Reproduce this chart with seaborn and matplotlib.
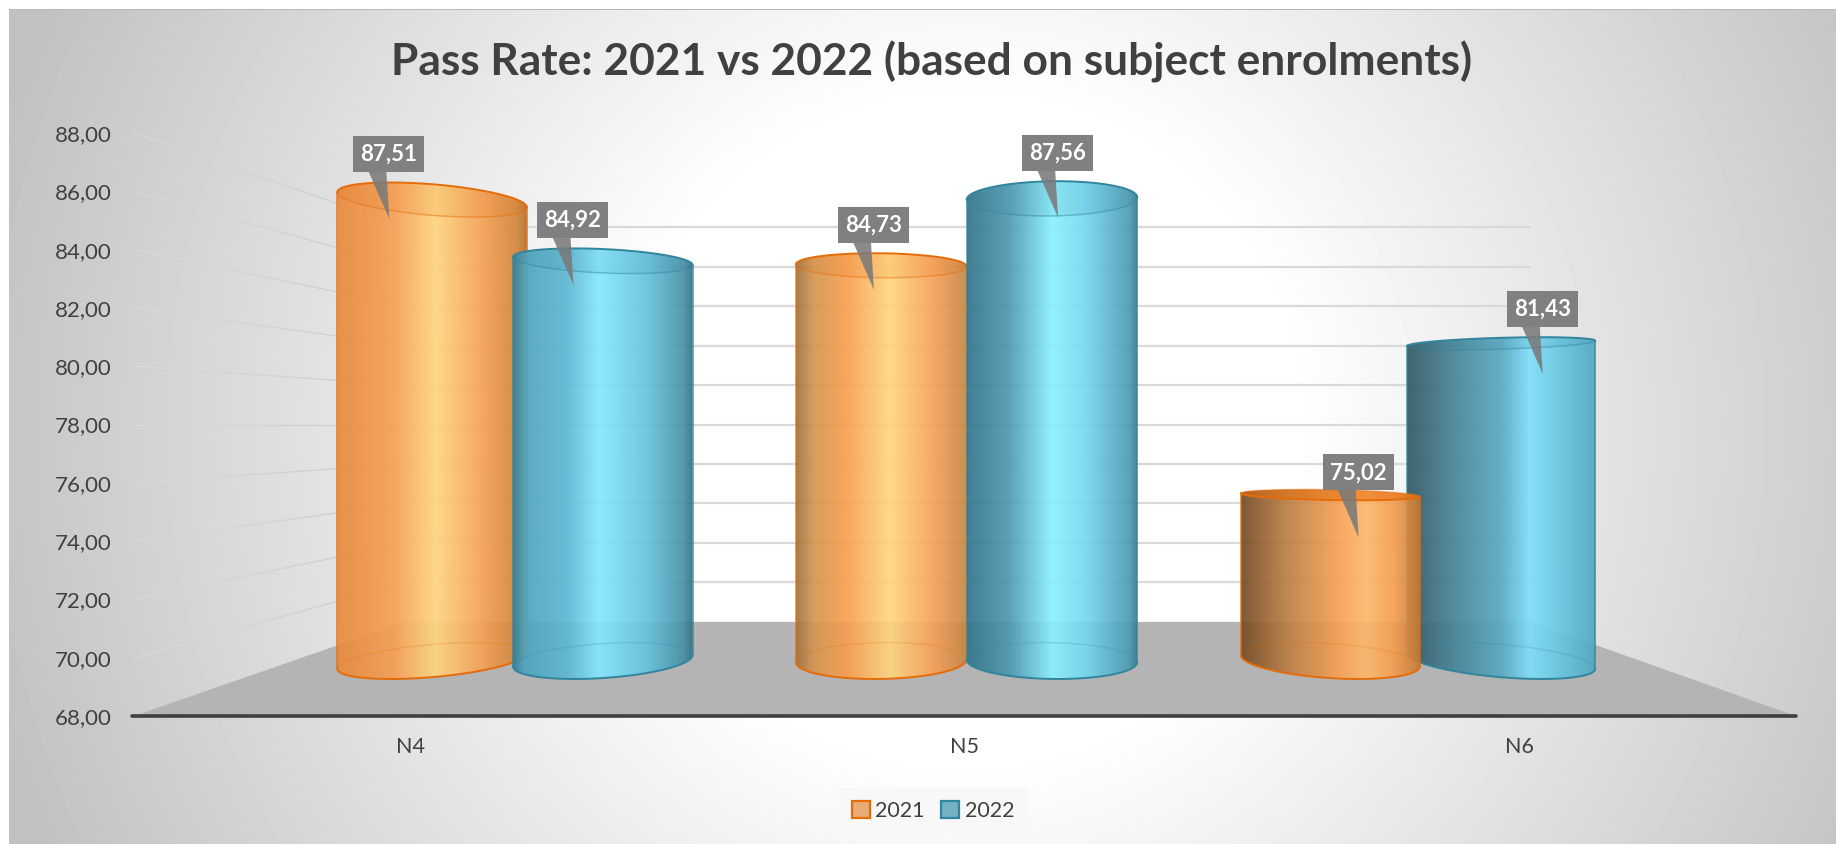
import numpy as np
import pandas as pd
import seaborn as sns
import matplotlib
matplotlib.use("Agg")
import matplotlib.pyplot as plt
from matplotlib.colors import LinearSegmentedColormap, to_rgb
from matplotlib.patches import Polygon, Rectangle
from matplotlib.ticker import FuncFormatter
from matplotlib.transforms import IdentityTransform

# Pass rates per level and year
levels = ["N4", "N5", "N6"]
years = ["2021", "2022"]
pass_2021 = [87.51, 84.73, 75.02]
pass_2022 = [84.92, 87.56, 81.43]
y_ticks = [68, 70, 72, 74, 76, 78, 80, 82, 84, 86, 88]
title = "Pass Rate: 2021 vs 2022 (based on subject enrolments)"

W, H = 1836, 844
sns.set_theme(style="white")
plt.rcParams["font.family"] = ["Lato", "DejaVu Sans"]
INK = "#404040"

# Perspective of the 3D scene: depth 0 is the front plane, depth 1 the back wall
HORIZON = 78.0
CENTRE = 1.015
DEPTH_K = 0.477
CYL_DEPTH = 0.505
CYL_RADIUS = 0.2


def project(x, v, d):
    s = 1.0 / (1.0 + DEPTH_K * np.asarray(d, dtype=float))
    return CENTRE + (np.asarray(x, dtype=float) - CENTRE) * s, HORIZON + (np.asarray(v, dtype=float) - HORIZON) * s


# Horizontal colour ramps of each cylinder, keyed by (level index, year)
RAMPS = {
    (0, "2021"): [(0, "#e8893c"), (.3, "#f7a055"), (.52, "#ffd680"), (.75, "#f7a458"), (.95, "#d38438"), (1, "#b5702f")],
    (0, "2022"): [(0, "#327f99"), (.06, "#4ea3bd"), (.3, "#5cb8d3"), (.48, "#84e8ff"), (.75, "#66c2dc"), (.95, "#4790a7"), (1, "#366f83")],
    (1, "2021"): [(0, "#a07240"), (.1, "#d49450"), (.3, "#f89f50"), (.55, "#ffd680"), (.8, "#f7a158"), (1, "#c78442")],
    (1, "2022"): [(0, "#327387"), (.25, "#4e99b2"), (.5, "#8af0ff"), (.7, "#76d6ef"), (.95, "#4b9bb3"), (1, "#35788f")],
    (2, "2021"): [(0, "#734a25"), (.25, "#b97c42"), (.55, "#f9a155"), (.7, "#fdb86c"), (.85, "#f59f50"), (1, "#c47a35")],
    (2, "2022"): [(0, "#315664"), (.25, "#468498"), (.5, "#58aac3"), (.65, "#7edefa"), (.8, "#68c9e2"), (1, "#50a6c2")],
}
FILL = {"2021": "#fbaa63", "2022": "#66b8d0"}
EDGE = {"2021": "#e46c0a", "2022": "#31859c"}

fig = plt.figure(figsize=(W / 100, H / 100), dpi=100, facecolor="white")

# Panel background: radial fade from white to grey
bg = fig.add_axes([0, 0, 1, 1], zorder=-1)
px, py = np.meshgrid(np.arange(W), np.arange(H))
radius = np.hypot(px - 965, py - 430)
shade = 255 - 62 * np.clip((radius - 330) / 680, 0, 1)
shade[:9, :] = 255
shade[:, :9] = 255
shade[9:10, 9:] = 184
bg.imshow(shade, cmap="gray", vmin=0, vmax=255, aspect="auto", interpolation="nearest")
bg.axis("off")

# Front plane of the plot: categories and values live in these axes
ax = fig.add_axes([134 / W, 1 - 716 / H, 1662 / W, 583 / H])
ax.patch.set_alpha(0)

df = pd.DataFrame({
    "level": levels * 2,
    "year": [years[0]] * 3 + [years[1]] * 3,
    "rate": pass_2021 + pass_2022,
})
sns.barplot(data=df, x="level", y="rate", hue="year", palette=FILL, width=0.76,
            dodge=True, gap=0, errorbar=None, ax=ax, zorder=1)
ax.set_xlim(-0.5, 2.5)
ax.set_ylim(68, 88)
ax.set_yticks(y_ticks)
ax.yaxis.set_major_formatter(FuncFormatter(lambda v, _: f"{v:.2f}".replace(".", ",")))
ax.tick_params(axis="y", length=0, pad=16, labelsize=16, labelcolor=INK)
ax.tick_params(axis="x", length=0, pad=15, labelsize=15.5, labelcolor=INK)
ax.set_xlabel("")
ax.set_ylabel("")
sns.despine(ax=ax, left=True, bottom=True)

# Walls and floor
gx0, gy0 = project(-0.5, 68, 0)
gx1, gy1 = project(-0.5, 68, 1)
gx2, gy2 = project(2.5, 68, 1)
gx3, gy3 = project(2.5, 68, 0)
ax.add_patch(Polygon([(gx0, gy0), (gx1, gy1), (gx2, gy2), (gx3, gy3)], closed=True,
                     facecolor="#b4b4b4", edgecolor="none", zorder=2, clip_on=False))
for tick in y_ticks[1:]:
    lx, ly = project(-0.5, tick, 1)
    rx, ry = project(2.5, tick, 1)
    ax.plot([lx, rx], [ly, ry], color="#d9d9d9", lw=1.6, zorder=2)
    # The side wall line goes from pale near the front to grey at the back wall
    steps = np.linspace(0, 1, 13)
    for a, b in zip(steps[:-1], steps[1:]):
        sx, sy = project(-0.5, tick, [a, b])
        tone = 0.85 - 0.05 * b
        ax.plot(sx, sy, color=(tone, tone, tone), lw=1.0, zorder=2, clip_on=False,
                solid_capstyle="butt")
ax.plot([gx0 - 0.003, gx3], [gy0, gy3], color="#3f3f3f", lw=2.6, zorder=6, clip_on=False,
        solid_capstyle="round")


def arc_between(i, j, n):
    """Both ways round a closed outline of n points, from index i to index j."""
    fwd = [(i + k) % n for k in range(((j - i) % n) + 1)]
    back = [(i - k) % n for k in range(((i - j) % n) + 1)]
    return np.array(fwd), np.array(back)


def draw_cylinder(centre, half, value, ramp, edge, order):
    theta = np.linspace(0, 2 * np.pi, 241)[:-1]
    wx = centre + half * np.cos(theta)
    wd = CYL_DEPTH + CYL_RADIUS * np.sin(theta)
    top_x, top_y = project(wx, value, wd)
    low_x, low_y = project(wx, 68, wd)
    left, right = int(np.argmin(top_x)), int(np.argmax(top_x))
    near, far = arc_between(right, left, len(theta))
    if wd[near].mean() > wd[far].mean():
        near, far = far, near

    # Above the horizon the near rim bounds the body, below it the far rim does
    top_outer = near if value >= HORIZON else far
    body = np.vstack([
        np.column_stack([top_x[top_outer], top_y[top_outer]])[::-1],
        np.column_stack([low_x[near], low_y[near]]),
    ])
    clip = Polygon(body, closed=True, transform=ax.transData, facecolor="none", edgecolor="none")
    ax.add_patch(clip)

    stops = [(p, to_rgb(c)) for p, c in ramp]
    cmap = LinearSegmentedColormap.from_list("body", stops)
    strip = cmap(np.linspace(0, 1, 256))[None, :, :].copy()
    strip[..., 3] = 0.92
    x_min, x_max = top_x.min(), top_x.max()
    img = ax.imshow(strip, extent=[x_min, x_max, 60, 95], aspect="auto",
                    interpolation="bilinear", zorder=order, clip_on=True)
    img.set_clip_path(clip)

    # Cap and rims
    cap_alpha = 0.10 if value >= HORIZON else 0.55
    ax.add_patch(Polygon(np.column_stack([top_x, top_y]), closed=True, facecolor=edge,
                         edgecolor="none", alpha=cap_alpha, zorder=order + 0.1, clip_on=False))
    ax.plot(top_x[near], top_y[near], color=edge, lw=1.4, zorder=order + 0.2, clip_on=False)
    ax.plot(top_x[far], top_y[far], color=edge, lw=1.1, alpha=0.45, zorder=order + 0.2, clip_on=False)
    ax.plot(low_x[near], low_y[near], color=edge, lw=1.4, zorder=order + 0.2, clip_on=False)
    ax.plot(low_x[far], low_y[far], color=edge, lw=1.0, alpha=0.22, zorder=order + 0.2, clip_on=False)
    for idx in (left, right):
        ax.plot([top_x[idx], low_x[idx]], [top_y[idx], low_y[idx]], color=edge, lw=1.2,
                alpha=0.8, zorder=order + 0.2, clip_on=False)


# The bars give the positions and heights; each is redrawn as a cylinder in perspective
bars = []
for container, year in zip(ax.containers, years):
    for i, bar in enumerate(container):
        bars.append((bar.get_x() + bar.get_width() / 2, bar.get_width() / 2, bar.get_height(), i, year))
        bar.set_visible(False)

# Outer cylinders first, so those nearer the centre sit on top
bars.sort(key=lambda b: -abs(b[0] - 1.0))
for n, (cx, half, value, i, year) in enumerate(bars):
    draw_cylinder(cx, half, value, RAMPS[(i, year)], EDGE[year], 3 + n * 0.3)

fig.canvas.draw()

# Data callouts: grey tag with a pointer, placed from the projected front of each cap
for cx, half, value, i, year in bars:
    wx, wy = project(cx, value, 0.3)
    tx, ty = ax.transData.transform((wx, wy))
    tip_x, tip_y = tx, ty - 37
    left, bottom = tip_x - 36, tip_y + 47
    bw, bh = 71, 36
    ax.add_patch(Polygon([(left + 15, bottom + 1), (left + 33, bottom + 1), (tip_x, tip_y)], closed=True,
                         transform=IdentityTransform(), facecolor="#7a7a7a", edgecolor="none",
                         alpha=0.88, zorder=20, clip_on=False))
    ax.add_patch(Rectangle((left, bottom), bw, bh, transform=IdentityTransform(),
                           facecolor="#808080", edgecolor="none", zorder=21, clip_on=False))
    ax.text(left + bw / 2, bottom + bh / 2 - 0.5, f"{value:.2f}".replace(".", ","),
            transform=IdentityTransform(), ha="center", va="center", color="white",
            fontsize=16, fontweight="bold", zorder=22, clip_on=False)

fig.text(932 / W, 1 - 62 / H, title, ha="center", va="center", color=INK,
         fontsize=31.9, fontweight="bold")

# Legend along the bottom edge
sns.move_legend(ax, loc="center", bbox_to_anchor=((933 - 134) / 1662, 1 - (811 - 133) / 583), ncol=2,
                title=None, frameon=True, fontsize=15.5, handlelength=0.85, handleheight=0.85,
                handletextpad=0.25, columnspacing=0.75, borderpad=0.62, fancybox=False)
leg = ax.get_legend()
leg.get_frame().set_facecolor("#f8f8f8")
leg.get_frame().set_edgecolor("none")
leg.get_frame().set_alpha(1)
leg.set_zorder(30)
for handle, year in zip(leg.legend_handles, years):
    handle.set_edgecolor(EDGE[year])
    handle.set_linewidth(1.6)
for text in leg.get_texts():
    text.set_color(INK)

fig.savefig("out.png", dpi=100)
